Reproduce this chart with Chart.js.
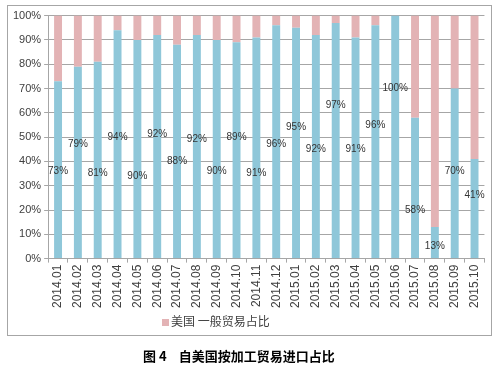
<!DOCTYPE html>
<html>
<head>
<meta charset="utf-8">
<script src="https://cdn.jsdelivr.net/npm/chart.js@4"></script>
<style>
  body { margin: 0; background: #fff; width: 500px; height: 374px; position: relative; overflow: hidden; }
  #box { position: absolute; left: 7px; top: 5px; width: 483px; height: 329px; border: 1px solid #a6a6a6; }
  #box canvas { position: absolute; left: 0; top: 0; }
  #legend { position: absolute; left: 154px; top: 306px; font: 12px "Noto Sans CJK SC", sans-serif; color: #404040; }
  #legend span.sw { display: inline-block; width: 7px; height: 7px; background: #e3b3b5; margin-right: 2px; vertical-align: 0px; }
  #title { position: absolute; left: 143px; top: 346px; font: 700 13px "Noto Sans CJK SC", sans-serif; color: #000; white-space: nowrap; }
  #title span.gap { display: inline-block; width: 12px; }
</style>
</head>
<body>
<div id="box">
  <canvas id="chart" width="483" height="329"></canvas>
  <div id="legend"><span class="sw"></span>美国 一般贸易占比</div>
</div>
<div id="title">图 4<span class="gap"></span>自美国按加工贸易进口占比</div>
<script>
/* ----- dados ----- */
const months = ['2014.01', '2014.02', '2014.03', '2014.04', '2014.05', '2014.06', '2014.07', '2014.08',
  '2014.09', '2014.10', '2014.11', '2014.12', '2015.01', '2015.02', '2015.03', '2015.04',
  '2015.05', '2015.06', '2015.07', '2015.08', '2015.09', '2015.10'];
// participação do processamento (azul)
const processingShare = [73, 79, 81, 94, 90, 92, 88, 92, 90, 89, 91, 96, 95, 92, 97, 91, 96, 100, 58, 13, 70, 41];
// comércio geral = resto (rosa)
const generalShare = [27, 21, 19, 6, 10, 8, 12, 8, 10, 11, 9, 4, 5, 8, 3, 9, 4, 0, 42, 87, 30, 59];
// altura (em %) onde cada rótulo foi colocado no original
const labelAt = [36, 47, 35, 50, 34, 51, 40, 49, 36, 50, 35, 47, 54, 45, 63, 45, 55, 70, 20, 5, 36, 26];
const yTicks = [0, 10, 20, 30, 40, 50, 60, 70, 80, 90, 100];

/* rótulos de valor sobre as barras azuis */
const valueLabels = {
  id: 'valueLabels',
  afterDatasetsDraw(chart) {
    const { ctx } = chart;
    const meta = chart.getDatasetMeta(0);
    const y = chart.scales.y;
    ctx.save();
    ctx.font = '10px "Liberation Sans", sans-serif';
    ctx.fillStyle = '#333';
    ctx.textAlign = 'center';
    ctx.textBaseline = 'middle';
    meta.data.forEach((bar, i) => {
      ctx.fillText(processingShare[i] + '%', bar.x, y.getPixelForValue(labelAt[i]));
    });
    ctx.restore();
  }
};

const grid = '#a6a6a6';

new Chart(document.getElementById('chart'), {
  type: 'bar',
  data: {
    labels: months,
    datasets: [
      { label: '美国 加工贸易占比', data: processingShare, backgroundColor: '#8fc7d9', barPercentage: 0.4, categoryPercentage: 1 },
      { label: '美国 一般贸易占比', data: generalShare, backgroundColor: '#e3b3b5', barPercentage: 0.4, categoryPercentage: 1 }
    ]
  },
  options: {
    responsive: false,
    animation: false,
    layout: { padding: { left: 2, right: 3, top: 8, bottom: 25 } },
    plugins: {
      legend: { display: false },
      tooltip: { enabled: false }
    },
    scales: {
      x: {
        stacked: true,
        grid: { drawOnChartArea: false, color: grid, tickLength: 4 },
        border: { color: grid },
        ticks: {
          minRotation: 90, maxRotation: 90, padding: 2,
          color: '#404040',
          font: { family: '"Liberation Sans", sans-serif', size: 12 }
        }
      },
      y: {
        stacked: true,
        min: 0, max: 100,
        afterBuildTicks: axis => { axis.ticks = yTicks.map(v => ({ value: v })); },
        grid: { color: grid, tickLength: 4 },
        border: { color: grid },
        ticks: {
          padding: 3,
          color: '#404040',
          font: { family: '"Liberation Sans", sans-serif', size: 11 },
          callback: v => v + '%'
        }
      }
    }
  },
  plugins: [valueLabels]
});
</script>
</body>
</html>
